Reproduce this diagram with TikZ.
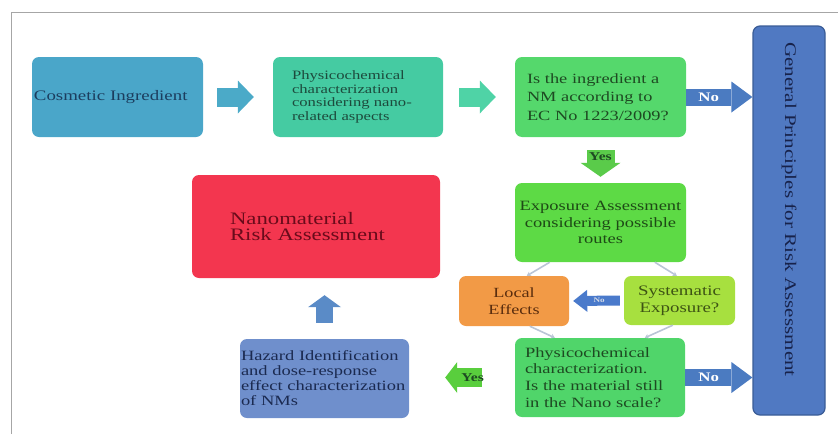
\documentclass[tikz,border=0pt]{standalone}
\usepackage{fontspec}
\setmainfont{Liberation Serif}[FakeStretch=1.3]
\usetikzlibrary{arrows.meta,calc}
\definecolor{framecol}{HTML}{A6A6A6}
\definecolor{cosfill}{HTML}{4AA6C9}\definecolor{costext}{HTML}{1C3D5E}
\definecolor{arrowA}{HTML}{4BAAC8}
\definecolor{pafill}{HTML}{45CBA2}\definecolor{patext}{HTML}{1D4B3D}
\definecolor{arrowB}{HTML}{4FD3A6}
\definecolor{nmfill}{HTML}{55D86C}\definecolor{nmtext}{HTML}{1E4A22}
\definecolor{noarrow}{HTML}{4B7BC1}
\definecolor{gpfill}{HTML}{5079C2}\definecolor{gpdraw}{HTML}{3A5C96}\definecolor{gptext}{HTML}{17224A}
\definecolor{yesdown}{HTML}{5ACB4A}
\definecolor{expofill}{HTML}{5DDA45}\definecolor{expotext}{HTML}{1E4A16}
\definecolor{locfill}{HTML}{F29A46}\definecolor{loctext}{HTML}{5A2D0E}
\definecolor{sysfill}{HTML}{A7E03F}\definecolor{systext}{HTML}{3D5314}
\definecolor{smallno}{HTML}{4A7ACB}
\definecolor{pbfill}{HTML}{50D56A}\definecolor{pbtext}{HTML}{1E4A22}
\definecolor{yesleft}{HTML}{59CE3D}
\definecolor{hazfill}{HTML}{6F8FCC}\definecolor{haztext}{HTML}{1B2A50}
\definecolor{uparrow}{HTML}{5A8BC7}
\definecolor{redfill}{HTML}{F3364F}\definecolor{redtext}{HTML}{6A0B1B}
\definecolor{thingray}{HTML}{BAC5D6}
\newcommand{\fsz}[2]{\fontsize{#1}{#2}\selectfont}
\begin{document}
\begin{tikzpicture}[x=1pt,y=-1pt,
  boxstyle/.style={rounded corners=7pt, inner ysep=2pt, anchor=center},
  bigarrow/.style={line width=19pt, -{Triangle[width=33pt,length=16pt,line width=0pt]}},
  noarrowstyle/.style={line width=17pt, draw=noarrow, -{Triangle[width=31pt,length=21pt,line width=0pt]}},
  labno/.style={text=white, font=\bfseries\fsz{13}{13}, inner sep=0pt},
  labyes/.style={text=nmtext, font=\bfseries\fsz{12}{12}, inner sep=0pt},
  thinline/.style={draw=thingray, line width=1.6pt, -{Stealth[length=4pt,width=5pt]}}
]
\useasboundingbox (0,0) rectangle (838,434);
\draw[framecol, line width=1.5pt] (11.5,434) -- (11.5,12.7) -- (838,12.7);

% boxes
\node[boxstyle, fill=cosfill, text=costext, inner xsep=2pt, text width=167pt, minimum height=80pt, align=left, font=\fsz{14.5}{18}] (cos) at (117.5,97) {Cosmetic Ingredient};
\node[boxstyle, fill=pafill, text=patext, inner xsep=19pt, text width=132pt, minimum height=80pt, align=left, font=\fsz{12.8}{13.5}] (pa) at (358,97) {Physicochemical\\characterization\\considering nano-\\related aspects};
\node[boxstyle, fill=nmfill, text=nmtext, inner xsep=12pt, text width=147pt, minimum height=80pt, align=left, font=\fsz{14.1}{18.5}] (nm) at (600.5,97) {Is the ingredient a\\NM according to\\EC No 1223/2009?};
\node[boxstyle, fill=gpfill, draw=gpdraw, line width=1.2pt, text=gptext, rotate=-90, minimum width=389pt, minimum height=72pt, font=\fsz{16.2}{18}] (gp) at (789,220.5) {General Principles for Risk Assessment\hspace*{22pt}};
\node[boxstyle, fill=expofill, text=expotext, inner xsep=3pt, text width=165pt, minimum height=79pt, align=center, font=\fsz{14.2}{16.5}] (expo) at (600.5,222.5) {Exposure Assessment\\considering possible\\routes\\[3pt]};
\node[boxstyle, fill=locfill, text=loctext, inner xsep=3pt, text width=104pt, minimum height=50pt, align=center, font=\fsz{14}{17}] (loc) at (514,301) {Local\\Effects};
\node[boxstyle, fill=sysfill, text=systext, inner xsep=3pt, text width=105pt, minimum height=49pt, align=center, font=\fsz{14.5}{17}] (sys) at (679.5,300.5) {Systematic\\Exposure?};
\node[boxstyle, fill=pbfill, text=pbtext, inner xsep=10pt, text width=150pt, minimum height=79pt, align=left, font=\fsz{14.2}{16.7}] (pb) at (600,377.5) {Physicochemical\\characterization.\\Is the material still\\in the Nano scale?};
\node[boxstyle, fill=hazfill, text=haztext, inner xsep=1pt, text width=167pt, minimum height=79pt, align=left, font=\fsz{14.2}{15}] (haz) at (324.5,378.5) {Hazard Identification\\and dose-response\\effect characterization\\of NMs};
\node[boxstyle, fill=redfill, text=redtext, inner xsep=38pt, text width=172pt, minimum height=103pt, align=left, font=\fsz{17.5}{16}] (nra) at (316,226.5) {Nanomaterial\\Risk Assessment};

% block arrows
\draw[bigarrow, draw=arrowA, shorten <=14pt, shorten >=19pt] (cos.east) -- (pa.west);
\draw[bigarrow, draw=arrowB, shorten <=16pt, shorten >=19pt] (pa.east) -- (nm.west);
\draw[noarrowstyle] (nm.east) -- (nm.east -| gp.south) node[labno, pos=0.34] {No};
\draw[noarrowstyle] (pb.east) -- (pb.east -| gp.south) node[labno, pos=0.35] {No};
\draw[line width=28pt, draw=yesdown, shorten <=13pt, shorten >=6pt, -{Triangle[width=40pt,length=14pt,line width=0pt]}] (nm.south) -- (expo.north) node[labyes, pos=0.42] {Yes};
\draw[line width=10pt, draw=smallno, shorten <=4pt, shorten >=4pt, -{Triangle[width=22pt,length=14pt,line width=0pt]}] (sys.west) -- (loc.east) node[text=thingray!60!white, font=\bfseries\fsz{7}{7}, inner sep=0pt, pos=0.45] {No};
\draw[line width=19pt, draw=yesleft, shorten <=33pt, shorten >=36pt, -{Triangle[width=31pt,length=12pt,line width=0pt]}] (pb.west) -- (pb.west -| haz.east) node[labyes, pos=0.4] {Yes};
\draw[line width=17pt, draw=uparrow, shorten <=16pt, shorten >=17pt, -{Triangle[width=33pt,length=12pt,line width=0pt]}] (haz.north) -- (haz.north |- nra.south);

% thin connectors
\draw[thinline] ([xshift=35pt]expo.south west) -- ([xshift=68pt]loc.north west);
\draw[thinline] ([xshift=140pt]expo.south west) -- ([xshift=53pt]sys.north west);
\draw[thinline] ([xshift=71pt]loc.south west) -- ([xshift=40pt]pb.north west);
\draw[thinline] ([xshift=49pt]sys.south west) -- ([xshift=130pt]pb.north west);
\end{tikzpicture}
\end{document}
